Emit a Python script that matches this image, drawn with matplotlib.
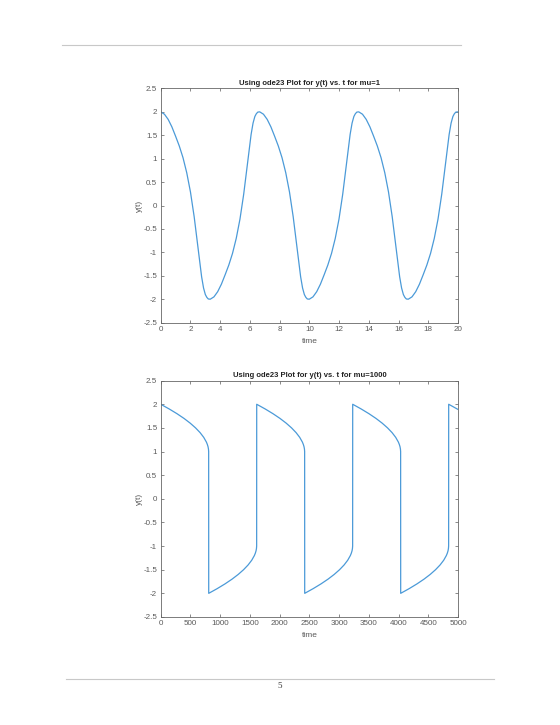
import matplotlib.pyplot as plt

# mu = 1 : y(t)
t_mu1 = [0, 0.25, 0.5, 0.75, 1.0, 1.25, 1.5, 1.75, 2.0, 2.25, 2.5, 2.75, 2.88, 3.0, 3.1, 3.2,
         3.33, 3.58, 3.83, 4.08, 4.33, 4.58, 4.83, 5.08, 5.33, 5.58, 5.83, 6.08, 6.21, 6.33, 6.43, 6.53,
         6.66, 6.91, 7.16, 7.41, 7.66, 7.91, 8.16, 8.41, 8.66, 8.91, 9.16, 9.41, 9.54, 9.66, 9.76, 9.86,
         9.99, 10.24, 10.49, 10.74, 10.99, 11.24, 11.49, 11.74, 11.99, 12.24, 12.49, 12.74, 12.87, 12.99, 13.09, 13.19,
         13.32, 13.57, 13.82, 14.07, 14.32, 14.57, 14.82, 15.07, 15.32, 15.57, 15.82, 16.07, 16.2, 16.32, 16.42, 16.52,
         16.65, 16.9, 17.15, 17.4, 17.65, 17.9, 18.15, 18.4, 18.65, 18.9, 19.15, 19.4, 19.53, 19.65, 19.75, 19.85,
         20.0]
y_mu1 = [2.0, 1.95, 1.84, 1.68, 1.48, 1.27, 1.02, 0.70, 0.29, -0.24, -0.88, -1.52, -1.76, -1.90, -1.96, -1.995,
         -2.0, -1.95, -1.84, -1.68, -1.48, -1.27, -1.02, -0.70, -0.29, 0.24, 0.88, 1.52, 1.76, 1.90, 1.96, 1.995,
         2.0, 1.95, 1.84, 1.68, 1.48, 1.27, 1.02, 0.70, 0.29, -0.24, -0.88, -1.52, -1.76, -1.90, -1.96, -1.995,
         -2.0, -1.95, -1.84, -1.68, -1.48, -1.27, -1.02, -0.70, -0.29, 0.24, 0.88, 1.52, 1.76, 1.90, 1.96, 1.995,
         2.0, 1.95, 1.84, 1.68, 1.48, 1.27, 1.02, 0.70, 0.29, -0.24, -0.88, -1.52, -1.76, -1.90, -1.96, -1.995,
         -2.0, -1.95, -1.84, -1.68, -1.48, -1.27, -1.02, -0.70, -0.29, 0.24, 0.88, 1.52, 1.76, 1.90, 1.96, 1.995,
         2.0]

# mu = 1000 : y(t)
t_mu1000 = [0, 143, 274, 392, 496, 586, 662, 723, 768, 784, 796, 803, 806,
            807, 950, 1081, 1199, 1303, 1393, 1469, 1530, 1575, 1591, 1603, 1610, 1613,
            1614, 1757, 1888, 2006, 2110, 2200, 2276, 2337, 2382, 2398, 2410, 2417, 2420,
            2421, 2564, 2695, 2813, 2917, 3007, 3083, 3144, 3189, 3205, 3217, 3224, 3227,
            3228, 3371, 3502, 3620, 3724, 3814, 3890, 3951, 3996, 4012, 4024, 4031, 4034,
            4035, 4178, 4309, 4427, 4531, 4621, 4697, 4758, 4803, 4819, 4831, 4838, 4841,
            4842, 4985, 5000]
y_mu1000 = [2.0, 1.9, 1.8, 1.7, 1.6, 1.5, 1.4, 1.3, 1.2, 1.15, 1.1, 1.05, 1.0,
            -2.0, -1.9, -1.8, -1.7, -1.6, -1.5, -1.4, -1.3, -1.2, -1.15, -1.1, -1.05, -1.0,
            2.0, 1.9, 1.8, 1.7, 1.6, 1.5, 1.4, 1.3, 1.2, 1.15, 1.1, 1.05, 1.0,
            -2.0, -1.9, -1.8, -1.7, -1.6, -1.5, -1.4, -1.3, -1.2, -1.15, -1.1, -1.05, -1.0,
            2.0, 1.9, 1.8, 1.7, 1.6, 1.5, 1.4, 1.3, 1.2, 1.15, 1.1, 1.05, 1.0,
            -2.0, -1.9, -1.8, -1.7, -1.6, -1.5, -1.4, -1.3, -1.2, -1.15, -1.1, -1.05, -1.0,
            2.0, 1.9, 1.89]

yticks = [-2.5, -2, -1.5, -1, -0.5, 0, 0.5, 1, 1.5, 2, 2.5]
yticklabels = ['-2.5', '-2', '-1.5', '-1', '-0.5', '0', '0.5', '1', '1.5', '2', '2.5']

plt.rcParams['font.family'] = ['Liberation Sans', 'DejaVu Sans']
line_col = '#4b9ad8'
txt_col = '#5a5a5a'


def style_axes(ax, xmax, xticks, title):
    ax.set_xlim(0, xmax)
    ax.set_ylim(-2.5, 2.5)
    ax.set_xticks(xticks)
    ax.set_xticklabels([str(v) for v in xticks])
    ax.set_yticks(yticks)
    ax.set_yticklabels(yticklabels)
    ax.tick_params(direction='in', length=2, width=0.5, labelsize=5.8, colors=txt_col,
                   top=True, right=True, pad=2.5)
    for s in ax.spines.values():
        s.set_linewidth(0.6)
        s.set_color('#666666')
    ax.set_title(title, fontsize=5.5, fontweight='bold', color='#222222', pad=2.5)
    ax.set_xlabel('time', fontsize=6, color=txt_col, labelpad=3.5)
    ax.set_ylabel('y(t)', fontsize=6, color=txt_col, labelpad=0)


fig = plt.figure(figsize=(5.6, 7.25), dpi=100)

ax1 = fig.add_axes([0.287, 0.555, 0.531, 0.323])
ax1.plot(t_mu1, y_mu1, color=line_col, lw=0.9)
style_axes(ax1, 20, [0, 2, 4, 6, 8, 10, 12, 14, 16, 18, 20],
           'Using ode23 Plot for y(t) vs. t for mu=1')

ax2 = fig.add_axes([0.287, 0.149, 0.531, 0.326])
ax2.plot(t_mu1000, y_mu1000, color=line_col, lw=0.9)
style_axes(ax2, 5000, [0, 500, 1000, 1500, 2000, 2500, 3000, 3500, 4000, 4500, 5000],
           'Using ode23 Plot for y(t) vs. t for mu=1000')

# page header / footer rules and page number
fig.add_artist(plt.Line2D([62 / 560, 461 / 560], [1 - 45 / 725] * 2, color='#c8c8c8', lw=0.8))
fig.add_artist(plt.Line2D([66 / 560, 494 / 560], [1 - 679 / 725] * 2, color='#c8c8c8', lw=0.8))
fig.text(280 / 560, 1 - 686 / 725, '5', fontsize=6.5, family='Liberation Serif',
         ha='center', va='center', color='#333333')

fig.savefig('out.png', dpi=100)
